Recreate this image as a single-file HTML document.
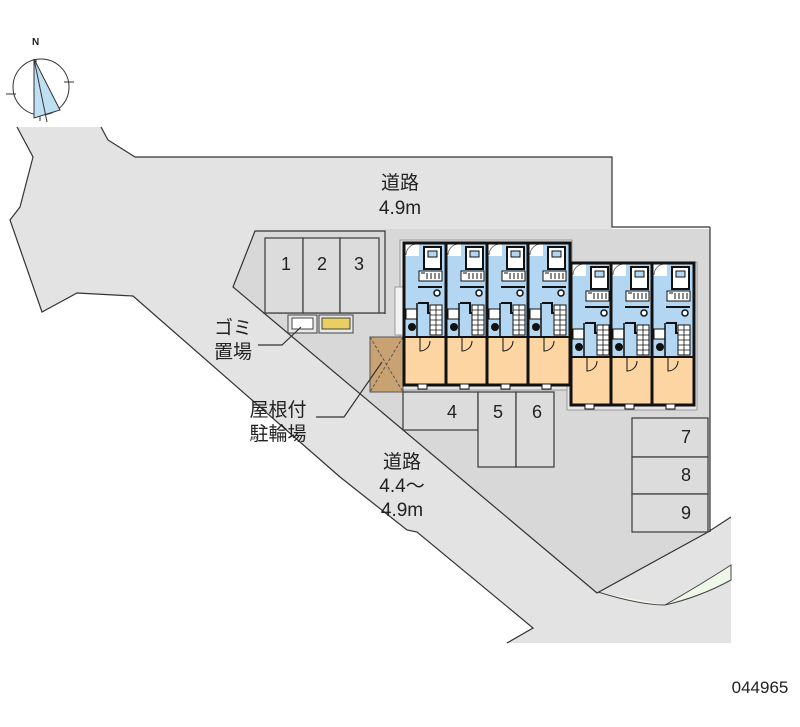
<!DOCTYPE html>
<html><head><meta charset="utf-8"><style>
html,body{margin:0;padding:0;background:#fff;}
svg{display:block;}
text{font-family:"Liberation Sans","Noto Sans CJK JP",sans-serif;fill:#222;}
</style></head><body>
<svg width="800" height="727" viewBox="0 0 800 727" xmlns="http://www.w3.org/2000/svg">
<defs>
<g id="unit">
  <rect x="0" y="0" width="42" height="142" fill="#b3d6f2"/>
  <rect x="1" y="1" width="14" height="12" fill="#fff"/>
  <path d="M2 12 A11 11 0 0 1 13 1" fill="none" stroke="#555" stroke-width="0.8"/>
  <rect x="20" y="4" width="17" height="22" fill="#fff" stroke="#111" stroke-width="2"/>
  <rect x="24" y="8" width="9" height="6" fill="#b3d6f2" stroke="#111" stroke-width="1"/>
  <rect x="15" y="28" width="23" height="10" fill="#fff" stroke="#111" stroke-width="1"/>
  <path d="M17 30h4M23 30v6M27 30v6M31 30v6M35 30v6" stroke="#111" stroke-width="1"/>
  <path d="M14 44h24" stroke="#111" stroke-width="2"/>
  <circle cx="33" cy="50" r="3" fill="#fff" stroke="#111" stroke-width="1.5"/>
  <path d="M14 60h10v10h14" stroke="#111" stroke-width="2" fill="none"/>
  <rect x="26" y="62" width="12" height="30" fill="#fff" stroke="#111" stroke-width="1"/>
  <path d="M26 67h12M26 72h12M26 77h12M26 82h12M26 87h12M32 62v30" stroke="#111" stroke-width="0.8"/>
  <rect x="2" y="66" width="11" height="10" fill="#fff" stroke="#111" stroke-width="1"/>
  <circle cx="8" cy="84" r="4" fill="#111"/>
  <path d="M13 60 v34" stroke="#111" stroke-width="1.5"/>
  <rect x="0" y="94" width="42" height="48" fill="#fcd5a2"/>
  <path d="M0 94h42" stroke="#111" stroke-width="2"/>
  <path d="M16 94v14 A10 10 0 0 0 26 98" fill="none" stroke="#111" stroke-width="1"/>
  <rect x="0" y="0" width="42" height="142" fill="none" stroke="#111" stroke-width="3"/>
  <rect x="14" y="141" width="9" height="5" fill="#fff" stroke="#111" stroke-width="1"/>
</g>
</defs>
<!-- roads -->
<polygon points="17,127 101,127 108,140 135,157 612,157 612,229 710,229 710,532 731,517 731,643 507,643 533,628 417,532 407,530 340,477 133,296 77,293 42,312 10,220 20,207 33,157" fill="#e3e3e3"/>
<!-- lot -->
<polygon points="255,231 385,231 385,229 710,229 710,532 597,593 233,287" fill="#d8d8d8"/>
<path d="M598,592 Q640,605 665,605 Q700,597 731,580 L731,565 Q700,585 665,605" fill="#eef7e8" stroke="#444" stroke-width="1"/>
<!-- outlines -->
<g fill="none" stroke="#333" stroke-width="1.2">
<polyline points="17,127 33,157 20,207 10,220 42,312 77,293 133,296 340,477 407,530 417,532 533,628 507,643"/>
<polyline points="101,127 108,140 135,157 612,157 612,227 710,227"/>
<polyline points="385,314 385,231 255,231 233,287 597,593 708,532 731,517"/>
<polyline points="710,227 710,532"/>
<polyline points="263,313 385,313"/>
</g>
<!-- parking 1-3 -->
<g fill="#dcdcdc" stroke="#444" stroke-width="1.3">
<rect x="265" y="238" width="38" height="75"/><rect x="303" y="238" width="37" height="75"/><rect x="340" y="238" width="39" height="75"/>
</g>
<text x="286" y="270" font-size="18" text-anchor="middle">1</text>
<text x="322" y="270" font-size="18" text-anchor="middle">2</text>
<text x="359" y="270" font-size="18" text-anchor="middle">3</text>
<!-- gomi -->
<rect x="288" y="315" width="29" height="18" fill="#e8e8e8" stroke="#444"/>
<rect x="292" y="318" width="21" height="11" fill="#fff" stroke="#444"/>
<rect x="319" y="315" width="34" height="18" fill="#e8e8e8" stroke="#444"/>
<rect x="322" y="318" width="28" height="11" fill="#e8cf60" stroke="#444"/>
<!-- building outline plates -->
<rect x="400" y="240" width="172" height="150" fill="#e6e6e6" stroke="#888" stroke-width="0.8"/>
<rect x="567" y="262" width="130" height="148" fill="#e6e6e6" stroke="#888" stroke-width="0.8"/>
<rect x="395" y="287" width="8" height="48" fill="#f2f2f2" stroke="#888" stroke-width="0.8"/>
<!-- bike parking -->
<rect x="370" y="337" width="33" height="55" fill="#c9a273" stroke="#555"/>
<path d="M370 337L403 392M403 337L370 392" stroke="#555" stroke-dasharray="3,2"/>
<!-- units -->
<use href="#unit" x="404" y="243"/>
<use href="#unit" x="446" y="243"/>
<use href="#unit" x="487" y="243"/>
<use href="#unit" x="528" y="243"/>
<use href="#unit" x="571" y="263" transform="translate(0,0)"/>
<use href="#unit" x="611" y="263"/>
<use href="#unit" x="652" y="263"/>
<!-- parking 4-9 -->
<g fill="#dcdcdc" stroke="#444" stroke-width="1.3">
<rect x="403" y="392" width="75" height="38"/>
<rect x="478" y="392" width="38" height="75"/><rect x="516" y="392" width="38" height="75"/>
<rect x="632" y="418" width="76" height="39"/><rect x="632" y="457" width="76" height="37"/><rect x="632" y="494" width="76" height="38"/>
</g>
<text x="452" y="418" font-size="18" text-anchor="middle">4</text>
<text x="498" y="418" font-size="18" text-anchor="middle">5</text>
<text x="537" y="418" font-size="18" text-anchor="middle">6</text>
<text x="686" y="443" font-size="18" text-anchor="middle">7</text>
<text x="686" y="481" font-size="18" text-anchor="middle">8</text>
<text x="686" y="519" font-size="18" text-anchor="middle">9</text>
<!-- labels -->
<text x="400" y="189" font-size="19" text-anchor="middle">道路</text>
<text x="400" y="214" font-size="19" text-anchor="middle">4.9m</text>
<text x="233" y="334" font-size="19" text-anchor="middle">ゴミ</text>
<text x="233" y="358" font-size="19" text-anchor="middle">置場</text>
<text x="278" y="416" font-size="19" text-anchor="middle">屋根付</text>
<text x="278" y="440" font-size="19" text-anchor="middle">駐輪場</text>
<text x="402" y="468" font-size="19" text-anchor="middle">道路</text>
<text x="402" y="492" font-size="19" text-anchor="middle">4.4～</text>
<text x="402" y="516" font-size="19" text-anchor="middle">4.9m</text>
<polyline points="258,345 282,345 301,327" fill="none" stroke="#333" stroke-width="1.2"/>
<polyline points="316,417 344,417 382,362" fill="none" stroke="#333" stroke-width="1.2"/>
<text x="760" y="693" font-size="17" text-anchor="middle">044965</text>
<!-- compass -->
<g stroke="#333" stroke-width="1" fill="none">
<circle cx="41" cy="87" r="28"/>
<path d="M6,94h10M64,82h10M40,111v10M36,70v-10"/>
<polygon points="34,59 34,118 60,110" fill="#bfe0f2"/>
<path d="M34,59 L47,122"/>
</g>
<text x="32" y="45" font-size="10" font-weight="bold" font-family="Liberation Serif,serif">N</text>
</svg>
</body></html>
